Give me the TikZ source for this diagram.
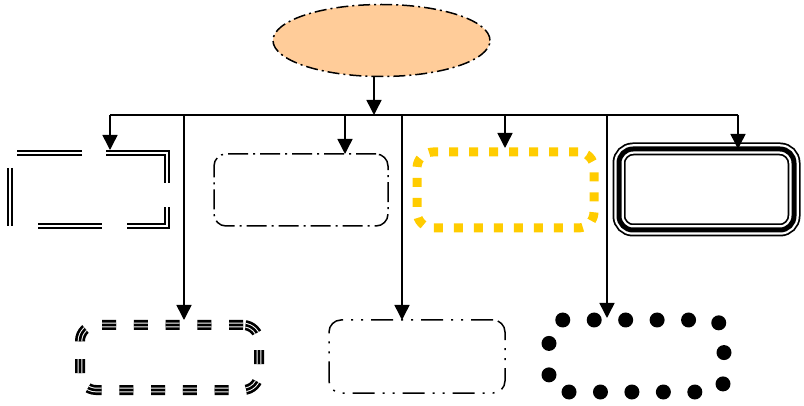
\documentclass[tikz,border=0pt]{standalone}
\usetikzlibrary{shapes.geometric,arrows.meta}
\definecolor{peach}{HTML}{FFCC99}
\definecolor{gold}{HTML}{FFCC00}
\tikzset{
  feed/.style={-{Triangle[length=15pt,width=15pt]}, line width=1.5pt},
  frame/.style={rectangle, inner sep=0pt, outer sep=0pt},
}

\begin{document}
\begin{tikzpicture}[x=1pt, y=-1pt, line width=1.5pt]
  \useasboundingbox (0,0) rectangle (804,406);

  \node [ellipse, draw, fill=peach, inner sep=0pt, minimum width=217pt, minimum height=72pt,
         dash pattern=on 12pt off 4pt on 2pt off 4pt] (root) at (381.5,40.5) {};

  % top row
  \node [frame, draw, double, line width=2pt, double distance=2.4pt, outer sep=3pt,
         minimum width=157pt, minimum height=73pt,
         dash pattern=on 0pt off 28pt on 64pt off 25pt on 59pt off 24pt on 91pt off 24pt on 65pt off 22pt on 58pt off 0pt]
         (b1) at (88.5,189.5) {};
  \node [frame, draw, rounded corners=12pt, minimum width=174pt, minimum height=72pt,
         dash pattern=on 20pt off 5pt on 2pt off 5pt] (b2) at (301,190) {};
  \node [frame, draw=gold, line width=9pt, rounded corners=16pt, outer sep=4pt,
         minimum width=177pt, minimum height=76pt,
         dash pattern=on 9pt off 11pt] (b3) at (505.5,190) {};
  \node [frame, draw, line width=13pt, rounded corners=14pt, minimum width=175pt, minimum height=81pt,
         postaction={draw=white, line width=9.5pt, rounded corners=14pt},
         postaction={draw, line width=5pt, rounded corners=14pt}] (b4) at (706.5,189.5) {};

  % bottom row
  \node [frame, draw, line width=10pt, rounded corners=16pt, outer sep=5pt,
         minimum width=179pt, minimum height=65pt, dash pattern=on 14pt off 17.7pt,
         postaction={draw=white, line width=4.6pt, rounded corners=16pt, dash pattern=on 14pt off 17.7pt},
         postaction={draw, line width=2.6pt, rounded corners=16pt, dash pattern=on 14pt off 17.7pt}]
         (b5) at (169.5,357.5) {};
  \node [frame, draw, rounded corners=12pt, minimum width=176pt, minimum height=73pt,
         dash pattern=on 22pt off 8pt on 2pt off 8pt on 2pt off 8pt] (b6) at (417,356.5) {};
  \node [frame, draw, line width=15pt, line cap=round, rounded corners=13pt, outer sep=2pt,
         minimum width=175pt, minimum height=72pt,
         dash pattern=on 0pt off 31.45pt, dash phase=9pt] (b7) at (636.5,356) {};

  % bus
  \coordinate (hub) at (374,115);
  \foreach \x/\b in {110/b1, 345/b2, 505/b3, 738/b4, 184/b5, 402/b6, 607/b7}
    \coordinate (d\b) at (\x,115);
  \draw [feed] (hub |- root.south) -- (hub);
  \draw (db1) -- (db4);
  \foreach \b in {b1,b2,b3,b4,b5,b6,b7}
    \draw [feed] (d\b) -- (d\b |- \b.north);
\end{tikzpicture}
\end{document}
